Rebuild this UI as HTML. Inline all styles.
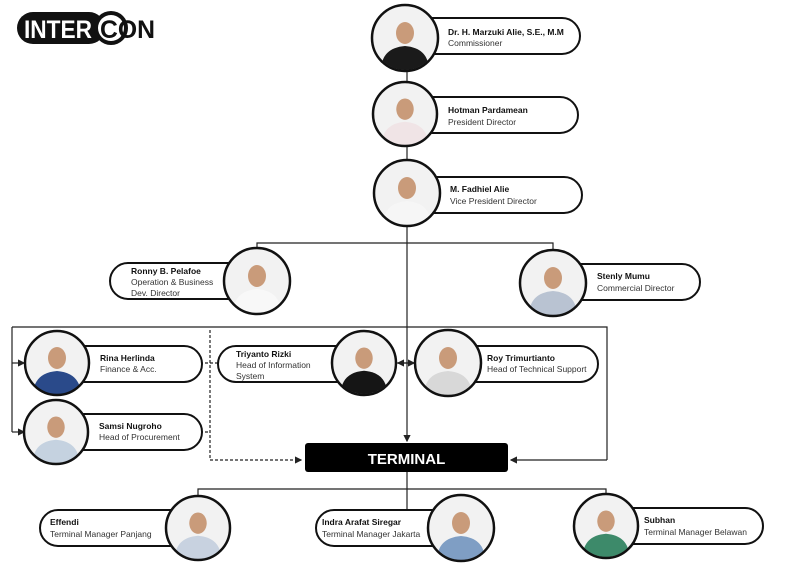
<!DOCTYPE html>
<html><head><meta charset="utf-8"><style>
html,body{margin:0;padding:0;background:#fff;}
svg{display:block;font-family:"Liberation Sans",sans-serif;}
.n{font-size:8.5px;font-weight:bold;fill:#111;}
.t{font-size:8.5px;fill:#333;}
.p{fill:#fff;stroke:#111;stroke-width:2;}
.c{stroke:#111;stroke-width:2.5;}
.l{stroke:#222;stroke-width:1.2;fill:none;}
</style></head><body>
<svg width="800" height="566" viewBox="0 0 800 566" xmlns="http://www.w3.org/2000/svg">
<defs>
<marker id="a" markerWidth="6" markerHeight="6" refX="5" refY="3" orient="auto"><path d="M0,0 L6,3 L0,6 z" fill="#222"/></marker>
<clipPath id="cc"><circle cx="0" cy="0" r="32"/></clipPath>
<symbol id="ph" viewBox="-33 -33 66 66">
<g clip-path="url(#cc)">
<circle cx="0" cy="0" r="33" fill="#f2f2f2"/>
<ellipse cx="0" cy="-5" rx="9" ry="11" fill="#c99b7a"/>
<path d="M-24,33 Q-24,10 0,8 Q24,10 24,33 z" fill="currentColor"/>
</g>
</symbol>
</defs>
<!-- logo -->
<rect x="17" y="12" width="88" height="32" rx="16" fill="#111"/>
<text x="24" y="38" font-size="25" font-weight="bold" fill="#fff" textLength="68" lengthAdjust="spacingAndGlyphs">INTER</text>
<circle cx="111" cy="28" r="17" fill="#111"/>
<circle cx="111" cy="28" r="13" fill="#fff"/>
<text x="100" y="38" font-size="25" font-weight="bold" fill="#111" textLength="55" lengthAdjust="spacingAndGlyphs">CON</text>

<!-- connectors -->
<line class="l" x1="407" y1="60" x2="407" y2="441" marker-end="url(#a)"/>
<polyline class="l" points="257,250 257,243 553,243 553,250"/>
<polyline class="l" points="12,327 607,327 607,460"/>
<line class="l" x1="607" y1="460" x2="511" y2="460" marker-end="url(#a)"/>
<line class="l" x1="12" y1="327" x2="12" y2="432"/>
<line class="l" x1="12" y1="363" x2="24" y2="363" marker-end="url(#a)"/>
<line class="l" x1="12" y1="432" x2="24" y2="432" marker-end="url(#a)"/>
<polyline class="l" points="210,330 210,460 301,460" stroke-dasharray="3,2" marker-end="url(#a)"/>
<line class="l" x1="200" y1="363" x2="218" y2="363" stroke-dasharray="3,2"/>
<line class="l" x1="200" y1="432" x2="210" y2="432" stroke-dasharray="3,2"/>
<line class="l" x1="397" y1="363" x2="414" y2="363" marker-end="url(#a)"/>
<line class="l" x1="414" y1="363" x2="398" y2="363" marker-end="url(#a)"/>
<line class="l" x1="407" y1="471" x2="407" y2="512"/>
<polyline class="l" points="198,497 198,489 606,489 606,495"/>

<!-- top chain -->
<rect class="p" x="405" y="18" width="175" height="36" rx="18"/>
<use href="#ph" x="372" y="5" width="66" height="66" color="#1a1a1a"/><circle class="c" cx="405" cy="38" r="33" fill="none"/>
<text class="n" x="448" y="35">Dr. H. Marzuki Alie, S.E., M.M</text><text class="t" x="448" y="46">Commissioner</text>

<rect class="p" x="405" y="97" width="173" height="36" rx="18"/>
<use href="#ph" x="373" y="82" width="64" height="64" color="#f0e4e6"/><circle class="c" cx="405" cy="114" r="32" fill="none"/>
<text class="n" x="448" y="113">Hotman Pardamean</text><text class="t" x="448" y="125">President Director</text>

<rect class="p" x="407" y="177" width="175" height="36" rx="18"/>
<use href="#ph" x="374" y="160" width="66" height="66" color="#f6f6f6"/><circle class="c" cx="407" cy="193" r="33" fill="none"/>
<text class="n" x="450" y="192">M. Fadhiel Alie</text><text class="t" x="450" y="204">Vice President Director</text>

<!-- directors -->
<rect class="p" x="110" y="263" width="147" height="36" rx="18"/>
<use href="#ph" x="224" y="248" width="66" height="66" color="#f8f8f8"/><circle class="c" cx="257" cy="281" r="33" fill="none"/>
<text class="n" x="131" y="274">Ronny B. Pelafoe</text><text class="t" x="131" y="285">Operation &amp; Business</text><text class="t" x="131" y="296">Dev. Director</text>

<rect class="p" x="553" y="264" width="147" height="36" rx="18"/>
<use href="#ph" x="520" y="250" width="66" height="66" color="#b9c3d2"/><circle class="c" cx="553" cy="283" r="33" fill="none"/>
<text class="n" x="597" y="279">Stenly Mumu</text><text class="t" x="597" y="291">Commercial Director</text>

<!-- heads -->
<rect class="p" x="56" y="346" width="146" height="36" rx="18"/>
<use href="#ph" x="24" y="330" width="66" height="66" color="#2a4a8a"/><circle class="c" cx="57" cy="363" r="32" fill="none"/>
<text class="n" x="100" y="361">Rina Herlinda</text><text class="t" x="100" y="372">Finance &amp; Acc.</text>

<rect class="p" x="56" y="414" width="146" height="36" rx="18"/>
<use href="#ph" x="24" y="400" width="64" height="64" color="#c5d2e0"/><circle class="c" cx="56" cy="432" r="32" fill="none"/>
<text class="n" x="99" y="429">Samsi Nugroho</text><text class="t" x="99" y="440">Head of Procurement</text>

<rect class="p" x="218" y="346" width="146" height="36" rx="18"/>
<use href="#ph" x="332" y="331" width="64" height="64" color="#151515"/><circle class="c" cx="364" cy="363" r="32" fill="none"/>
<text class="n" x="236" y="357">Triyanto Rizki</text><text class="t" x="236" y="368">Head of Information</text><text class="t" x="236" y="379">System</text>

<rect class="p" x="448" y="346" width="150" height="36" rx="18"/>
<use href="#ph" x="415" y="330" width="66" height="66" color="#d8d8d8"/><circle class="c" cx="448" cy="363" r="33" fill="none"/>
<text class="n" x="487" y="361">Roy Trimurtianto</text><text class="t" x="487" y="372">Head of Technical Support</text>

<!-- terminal -->
<rect x="305" y="443" width="203" height="29" rx="3" fill="#000"/>
<text x="406.5" y="464" text-anchor="middle" font-size="15" font-weight="bold" fill="#fff">TERMINAL</text>

<!-- managers -->
<rect class="p" x="40" y="510" width="158" height="36" rx="18"/>
<use href="#ph" x="166" y="496" width="64" height="64" color="#c8d2e0"/><circle class="c" cx="198" cy="528" r="32" fill="none"/>
<text class="n" x="50" y="525">Effendi</text><text class="t" x="50" y="537">Terminal Manager Panjang</text>

<rect class="p" x="316" y="510" width="145" height="36" rx="18"/>
<use href="#ph" x="428" y="495" width="66" height="66" color="#7f9ec4"/><circle class="c" cx="461" cy="528" r="33" fill="none"/>
<text class="n" x="322" y="525">Indra Arafat Siregar</text><text class="t" x="322" y="537">Terminal Manager Jakarta</text>

<rect class="p" x="606" y="508" width="157" height="36" rx="18"/>
<use href="#ph" x="574" y="494" width="64" height="64" color="#3d8a6a"/><circle class="c" cx="606" cy="526" r="32" fill="none"/>
<text class="n" x="644" y="523">Subhan</text><text class="t" x="644" y="535">Terminal Manager Belawan</text>
</svg>
</body></html>
